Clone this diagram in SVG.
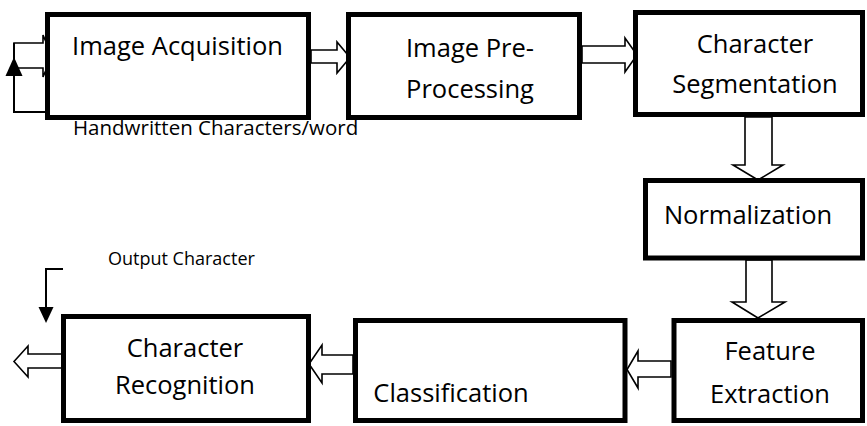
<svg xmlns="http://www.w3.org/2000/svg" width="867" height="426" viewBox="0 0 867 426">
<style>
.box{fill:#fff;stroke:#000;stroke-width:5}
.arr{fill:#fff;stroke:#000;stroke-width:1.6;stroke-linejoin:miter}
.ln{fill:none;stroke:#000;stroke-width:2}
.t{font-family:"Open Sans","Liberation Sans",sans-serif;font-size:25.5px;fill:#000;text-anchor:middle}
.s{font-family:"Open Sans","Liberation Sans",sans-serif;font-size:18px;fill:#000}
</style>
<rect width="867" height="426" fill="#fff"/>
<g id="connectors">
<polygon class="arr" points="311,50 337,50 337,42 350,57.5 337,73 337,63 311,63"/>
<polygon class="arr" points="582,46 625,46 625,38 637,55 625,72 625,63 582,63"/>
<polygon class="arr" points="745,117 772,117 772,165 783,165 758,180 733,165 745,165"/>
<polygon class="arr" points="746,260 772,260 772,302 785,302 758,318 732,302 746,302"/>
<polygon class="arr" points="671,361 638,361 638,351 627,369.5 638,388 638,377 671,377"/>
<polygon class="arr" points="353,355 322,355 322,345 309,364 322,383 322,374 353,374"/>
<polygon class="arr" points="63,354 28,354 28,346 14,361.5 28,377 28,368 63,368"/>
<g id="input-feedback">
<polygon class="arr" points="14,43 43,43 43,35 52,56 43,77 43,68 14,68"/>
<polyline class="ln" points="14,43 14,112 52,112"/>
<polygon points="14,57 22.5,76 5.5,76" fill="#000"/>
</g>
<g id="output-indicator">
<polyline class="ln" points="63,269 46,269 46,310"/>
<polygon points="38.5,307 53.5,307 46,323" fill="#000"/>
</g>
</g>
<g id="image-acquisition">
<rect class="box" x="47.5" y="14.5" width="261" height="103"/>
<text class="t" x="177.5" y="55">Image Acquisition</text>
</g>
<g id="image-preprocessing">
<rect class="box" x="348.5" y="14.5" width="231" height="103"/>
<text class="t" x="470" y="57">Image Pre-</text>
<text class="t" x="470" y="98">Processing</text>
</g>
<g id="character-segmentation">
<rect class="box" x="635.5" y="12.5" width="227" height="102"/>
<text class="t" x="755" y="53">Character</text>
<text class="t" x="755" y="93">Segmentation</text>
</g>
<g id="normalization">
<rect class="box" x="645.5" y="180.5" width="217" height="77.5"/>
<text class="t" x="748" y="224">Normalization</text>
</g>
<g id="feature-extraction">
<rect class="box" x="674" y="320.5" width="188.5" height="100"/>
<text class="t" x="770" y="360">Feature</text>
<text class="t" x="770" y="403">Extraction</text>
</g>
<g id="classification">
<rect class="box" x="355.5" y="320.5" width="269.5" height="100"/>
<text class="t" x="451" y="402">Classification</text>
</g>
<g id="character-recognition">
<rect class="box" x="63.5" y="316.5" width="245" height="104"/>
<text class="t" x="185" y="357">Character</text>
<text class="t" x="185" y="394">Recognition</text>
</g>
<text class="s" x="73" y="135" style="font-size:20.5px">Handwritten Characters/word</text>
<text class="s" x="108" y="265">Output Character</text>
</svg>
